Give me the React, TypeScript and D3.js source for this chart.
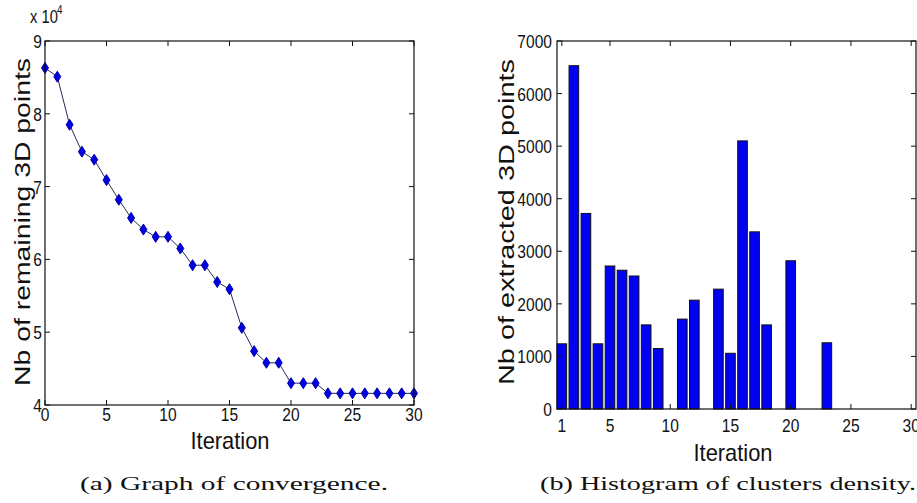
import React from "react";
import * as d3 from "d3";

const iterationsA = d3.range(0, 31);
const remainingPoints = [
  86300, 85100, 78500, 74800, 73700, 70900, 68200, 65700, 64100, 63100, 63100,
  61500, 59200, 59200, 56900, 55900, 50600, 47400, 45800, 45800, 43000, 43000,
  43000, 41600, 41600, 41600, 41600, 41600, 41600, 41600, 41600,
];
const leftXTicks = [0, 5, 10, 15, 20, 25, 30];
const leftYTicks = [40000, 50000, 60000, 70000, 80000, 90000];

const iterationsB = d3.range(1, 31);
const extractedPoints = [
  1240, 6530, 3720, 1240, 2720, 2640, 2530, 1600, 1150, 0, 1710, 2070, 0, 2280,
  1060, 5100, 3370, 1600, 0, 2820, 0, 0, 1260, 0, 0, 0, 0, 0, 0, 0,
];
const rightXTicks = [1, 5, 10, 15, 20, 25, 30];
const rightYTicks = [0, 1000, 2000, 3000, 4000, 5000, 6000, 7000];

const SANS = "'Liberation Sans', Arial, sans-serif";
const SERIF = "'Liberation Serif', 'DejaVu Serif', serif";

function NText({ x, y, anchor, size, children }: any) {
  return (
    <text
      transform={`translate(${x},${y}) scale(0.82,1)`}
      textAnchor={anchor}
      fontFamily={SANS}
      fontSize={size}
      fill="#111"
    >
      {children}
    </text>
  );
}

function Box({ x0, x1, y0, y1, xTicks, yTicks, xs, ys, xFmt, yFmt, tickLabelY, yLabelX }: any) {
  const tl = 5;
  return (
    <g>
      <rect x={x0} y={y1} width={x1 - x0} height={y0 - y1} fill="none" stroke="#111" strokeWidth={1.2} />
      {xTicks.map((t: number) => (
        <g key={"x" + t}>
          <line x1={xs(t)} x2={xs(t)} y1={y0} y2={y0 - tl} stroke="#111" />
          <line x1={xs(t)} x2={xs(t)} y1={y1} y2={y1 + tl} stroke="#111" />
          <NText x={xs(t)} y={tickLabelY} anchor="middle" size={19}>
            {xFmt(t)}
          </NText>
        </g>
      ))}
      {yTicks.map((t: number) => (
        <g key={"y" + t}>
          <line x1={x0} x2={x0 + tl} y1={ys(t)} y2={ys(t)} stroke="#111" />
          <line x1={x1} x2={x1 - tl} y1={ys(t)} y2={ys(t)} stroke="#111" />
          <NText x={yLabelX} y={ys(t) + 7} anchor="end" size={19}>
            {yFmt(t)}
          </NText>
        </g>
      ))}
    </g>
  );
}

export default function App() {
  const W = 917, H = 503;

  // Left chart
  const lx = d3.scaleLinear().domain([0, 30]).range([45, 414]);
  const ly = d3.scaleLinear().domain([40000, 90000]).range([405, 41]);
  const line = d3
    .line<number>()
    .x((_, i) => lx(iterationsA[i]))
    .y((d) => ly(d));

  // Right chart
  const rx = d3.scaleLinear().domain([0.6, 30.4]).range([557, 916]);
  const ry = d3.scaleLinear().domain([0, 7000]).range([409, 41]);
  const bw = rx(1.8) - rx(1);

  return (
    <svg width={W} height={H} style={{ display: "block", position: "absolute", left: 0, top: 0 }}>
      <rect width={W} height={H} fill="#fff" />
      {/* Left plot */}
      <path d={line(remainingPoints) || ""} fill="none" stroke="#2a2a55" strokeWidth={1} />
      {remainingPoints.map((v, i) => {
        const cx = lx(iterationsA[i]);
        const cy = ly(v);
        return (
          <path
            key={i}
            d={`M${cx},${cy - 5.5}L${cx + 3.5},${cy}L${cx},${cy + 5.5}L${cx - 3.5},${cy}Z`}
            fill="#0000e0"
            stroke="#0000b0"
            strokeWidth={1}
          />
        );
      })}
      <Box
        x0={45} x1={414} y0={405} y1={41}
        xTicks={leftXTicks} yTicks={leftYTicks} xs={lx} ys={ly}
        xFmt={(t: number) => String(t)} yFmt={(t: number) => String(t / 10000)}
        tickLabelY={421} yLabelX={42}
      />
      <NText x={30} y={23} anchor="start" size={18}>x 10</NText>
      <NText x={57} y={14} anchor="start" size={12}>4</NText>
      <text x={230} y={449} textAnchor="middle" fontFamily={SANS} fontSize={24} fill="#111" textLength={79} lengthAdjust="spacingAndGlyphs">
        Iteration
      </text>
      <text
        transform="translate(30,222) rotate(-90)"
        textAnchor="middle" fontFamily={SANS} fontSize={22} fill="#111"
        textLength={328} lengthAdjust="spacingAndGlyphs"
      >
        Nb of remaining 3D points
      </text>

      {/* Right plot */}
      {extractedPoints.map((v, i) =>
        v > 0 ? (
          <rect
            key={i}
            x={rx(iterationsB[i]) - bw / 2}
            y={ry(v)}
            width={bw}
            height={ry(0) - ry(v)}
            fill="#0000f5"
            stroke="#111"
            strokeWidth={1}
          />
        ) : null
      )}
      <Box
        x0={557} x1={916} y0={409} y1={41}
        xTicks={rightXTicks} yTicks={rightYTicks} xs={rx} ys={ry}
        xFmt={(t: number) => String(t)} yFmt={(t: number) => String(t)}
        tickLabelY={432} yLabelX={552}
      />
      <text x={733} y={461} textAnchor="middle" fontFamily={SANS} fontSize={24} fill="#111" textLength={79} lengthAdjust="spacingAndGlyphs">
        Iteration
      </text>
      <text
        transform="translate(514,222) rotate(-90)"
        textAnchor="middle" fontFamily={SANS} fontSize={22} fill="#111"
        textLength={326} lengthAdjust="spacingAndGlyphs"
      >
        Nb of extracted 3D points
      </text>

      {/* Captions */}
      <text x={80} y={490} fontFamily={SERIF} fontSize={19} fill="#111" textLength={308} lengthAdjust="spacingAndGlyphs">
        (a) Graph of convergence.
      </text>
      <text x={540} y={490} fontFamily={SERIF} fontSize={19} fill="#111" textLength={376} lengthAdjust="spacingAndGlyphs">
        (b) Histogram of clusters density.
      </text>
    </svg>
  );
}
